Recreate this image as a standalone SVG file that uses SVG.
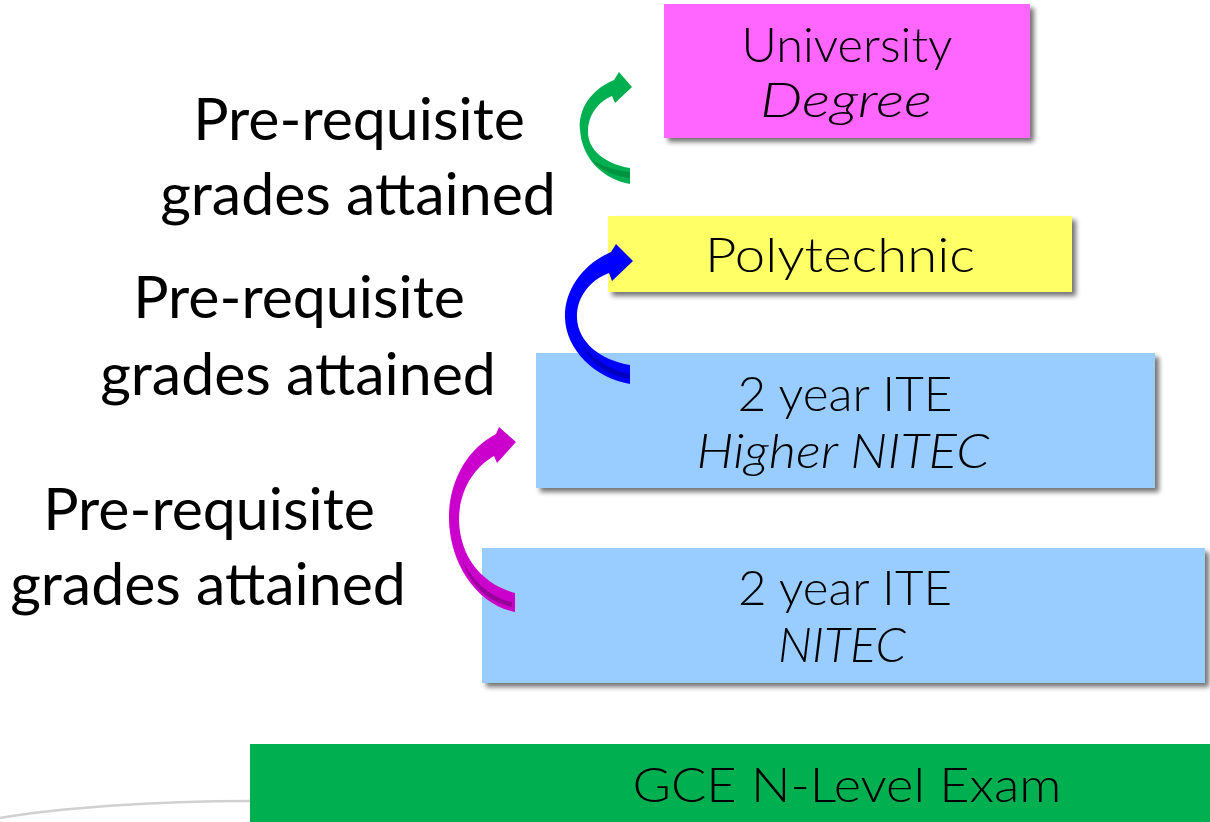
<svg xmlns="http://www.w3.org/2000/svg" width="1210" height="822" viewBox="0 0 1210 822">
<defs>
<filter id="sh" x="-5%" y="-10%" width="112%" height="130%">
<feGaussianBlur in="SourceAlpha" stdDeviation="2.5"/>
<feOffset dx="4" dy="4" result="b"/>
<feComponentTransfer><feFuncA type="linear" slope="0.55"/></feComponentTransfer>
<feMerge><feMergeNode/><feMergeNode in="SourceGraphic"/></feMerge>
</filter>
</defs>
<style>
.lbl{font-family:"Lato","Open Sans","Liberation Sans",sans-serif;font-size:59px;fill:#000;text-anchor:middle}
.bx{font-family:"Lato","DejaVu Sans","Liberation Sans",sans-serif;font-size:48px;font-weight:300;fill:#000;text-anchor:middle}
.it{font-style:italic}
</style>
<rect width="1210" height="822" fill="#fff"/>
<path d="M0,818 C60,808 150,801 250,801" fill="none" stroke="#d0d0d0" stroke-width="2.5"/>

<g id="node-university">
<rect x="664" y="4" width="366" height="134" fill="#ff66ff" filter="url(#sh)"/>
<text class="bx" x="847" y="62" textLength="211" lengthAdjust="spacingAndGlyphs">University</text>
<text class="bx it" x="846" y="117" textLength="172" lengthAdjust="spacingAndGlyphs">Degree</text>
</g>
<g id="node-polytechnic">
<rect x="608" y="216" width="464" height="76" fill="#ffff66" filter="url(#sh)"/>
<text class="bx" x="840" y="272" textLength="270" lengthAdjust="spacingAndGlyphs">Polytechnic</text>
</g>
<g id="node-higher-nitec">
<rect x="536" y="353" width="619" height="135" fill="#99ccff" filter="url(#sh)"/>
<text class="bx" x="845" y="411" textLength="215" lengthAdjust="spacingAndGlyphs">2 year ITE</text>
<text class="bx it" x="843" y="468" textLength="293" lengthAdjust="spacingAndGlyphs">Higher NITEC</text>
</g>
<g id="node-nitec">
<rect x="482" y="548" width="723" height="135" fill="#99ccff" filter="url(#sh)"/>
<text class="bx" x="845" y="605" textLength="214" lengthAdjust="spacingAndGlyphs">2 year ITE</text>
<text class="bx it" x="842" y="662" textLength="128" lengthAdjust="spacingAndGlyphs">NITEC</text>
</g>
<g id="node-gce">
<rect x="250" y="744" width="960" height="78" fill="#00b050"/>
<text class="bx" x="847" y="802" textLength="429" lengthAdjust="spacingAndGlyphs">GCE N-Level Exam</text>
</g>

<g id="connectors">
<path d="M614,80 C590,90 578,110 580,130 C582,160 605,180 630,184 L630,168 C605,164 588,150 588,132 C588,115 598,102 612,96 L615,103 L632,87 L619,72 Z" fill="#00b050"/>
<path d="M592,160 C602,172 615,176 630,178 L630,172 C614,170 602,166 592,160 Z" fill="#009440"/>
<path d="M611,252 C583,264 564,290 565,318 C566,350 595,378 630,384 L630,365 C600,360 578,342 577,318 C576,298 590,280 609,273 L612,281 L633,261 L616,244 Z" fill="#0000ff"/>
<path d="M582,345 C596,362 612,370 630,374 L630,379 C610,376 592,366 582,345 Z" fill="#0000c0"/>
<path d="M496,434 C465,450 448,485 449,520 C450,565 478,605 515,612 L515,593 C485,585 460,560 459,520 C459,492 473,468 494,456 L497,463 L516,442 L499,427 Z" fill="#cc00cc"/>
<path d="M462,560 C475,585 493,598 512,602 L512,607 C490,602 472,588 462,560 Z" fill="#990099"/>
</g>

<g id="labels">
<text class="lbl" x="359" y="140">Pre-requisite</text>
<text class="lbl" x="358" y="215">grades attained</text>
<text class="lbl" x="299" y="318">Pre-requisite</text>
<text class="lbl" x="298" y="395">grades attained</text>
<text class="lbl" x="209" y="530">Pre-requisite</text>
<text class="lbl" x="208" y="605">grades attained</text>
</g>
</svg>
